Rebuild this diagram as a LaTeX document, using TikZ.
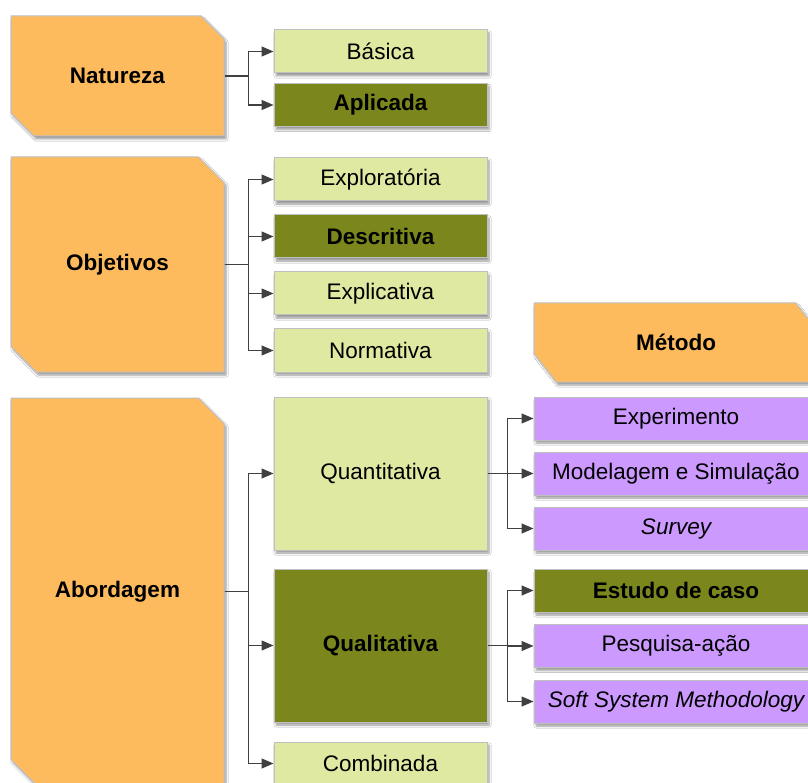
\documentclass[tikz,border=0pt]{standalone}
\usepackage{fontspec}
\setmainfont{Liberation Sans}
\usepackage{tikz}
\usetikzlibrary{shapes.misc,arrows.meta,shadows.blur}

\definecolor{orangebox}{RGB}{253,187,94}
\definecolor{lightbox}{RGB}{224,233,161}
\definecolor{olivebox}{RGB}{123,135,29}
\definecolor{lilacbox}{RGB}{204,153,255}
\definecolor{linegray}{RGB}{64,64,64}

\begin{document}
\begin{tikzpicture}[x=1pt, y=-1pt,
  font=\fontsize{22.5}{27}\selectfont,
  box/.style={rectangle, draw=black!25, line width=1pt, inner sep=0pt,
    blur shadow={shadow xshift=2pt, shadow yshift=-3pt, shadow blur steps=6}},
  cat/.style={box, chamfered rectangle, chamfered rectangle corners={north east,south west},
    chamfered rectangle sep=15pt, fill=orangebox, minimum width=213pt,
    font=\fontsize{22.5}{27}\selectfont\bfseries},
  lite/.style={box, fill=lightbox, minimum width=213pt, minimum height=43pt},
  dark/.style={lite, fill=olivebox, font=\fontsize{22.5}{27}\selectfont\bfseries},
  meth/.style={box, fill=lilacbox, minimum width=284pt, minimum height=43pt},
  conn/.style={draw=linegray, line width=1.3pt, -{Triangle[length=12pt,width=10pt]}}
]

  \newcommand\XA{117.5}
  \newcommand\XB{380.5}
  \newcommand\XC{676}

  \fill[white] (0,0) rectangle (808,783);
  \useasboundingbox (0,0) rectangle (808,783);
  \clip (0,0) rectangle (808,783);

  % categorias
  \node[cat, minimum height=120pt] (nat) at (\XA, 76) {Natureza};
  \node[cat, minimum height=215pt] (obj) at (\XA, 264.5) {Objetivos};
  \node[cat, minimum height=387pt] (abo) at (\XA, 591.5) {Abordagem};
  \node[cat, minimum width=284pt, minimum height=79pt, chamfered rectangle angle=38,
    chamfered rectangle xsep=26pt, chamfered rectangle ysep=20pt] (met) at (\XC, 342.5) {Método};

  % natureza
  \node[lite] (bas) at (\XB, 51.5) {Básica};
  \node[dark] (apl) at (\XB, 105) {Aplicada};

  % objetivos
  \node[lite] (explo) at (\XB, 179.5) {Exploratória};
  \node[dark] (desc) at (\XB, 236.5) {Descritiva};
  \node[lite] (expli) at (\XB, 293.5) {Explicativa};
  \node[lite] (norm) at (\XB, 350.5) {Normativa};

  % abordagem
  \node[lite, minimum height=153pt] (quan) at (\XB, 473.5) {Quantitativa};
  \node[dark, minimum height=153pt] (qual) at (\XB, 645.5) {Qualitativa};
  \node[lite] (comb) at (\XB, 763.5) {Combinada};

  % metodos
  \node[meth] (expe) at (\XC, 418.5) {Experimento};
  \node[meth] (mod) at (\XC, 473.5) {Modelagem e Simulação};
  \node[meth] (surv) at (\XC, 528.5) {\itshape Survey};
  \node[meth, fill=olivebox, font=\fontsize{22.5}{27}\selectfont\bfseries] (est) at (\XC, 590.5) {Estudo de caso};
  \node[meth] (pesq) at (\XC, 646) {Pesquisa-ação};
  \node[meth] (ssm) at (\XC, 701.5) {\itshape Soft System Methodology};

  \draw[conn] (nat.east) -- ++(24,0) |- (bas.west); %% nat->bas
  \draw[conn] (nat.east) -- ++(24,0) |- (apl.west); %% nat->apl

  \foreach \t in {explo,desc,expli,norm}
    \draw[conn] (obj.east) -- ++(24,0) |- (\t.west);

  \foreach \t in {quan,qual,comb}
    \draw[conn] (abo.east) -- ++(24,0) |- (\t.west);

  \foreach \t in {expe,mod,surv}
    \draw[conn] (quan.east) -- ++(20,0) |- (\t.west);
  \foreach \t in {est,pesq,ssm}
    \draw[conn] (qual.east) -- ++(20,0) |- (\t.west);

\end{tikzpicture}
\end{document}
